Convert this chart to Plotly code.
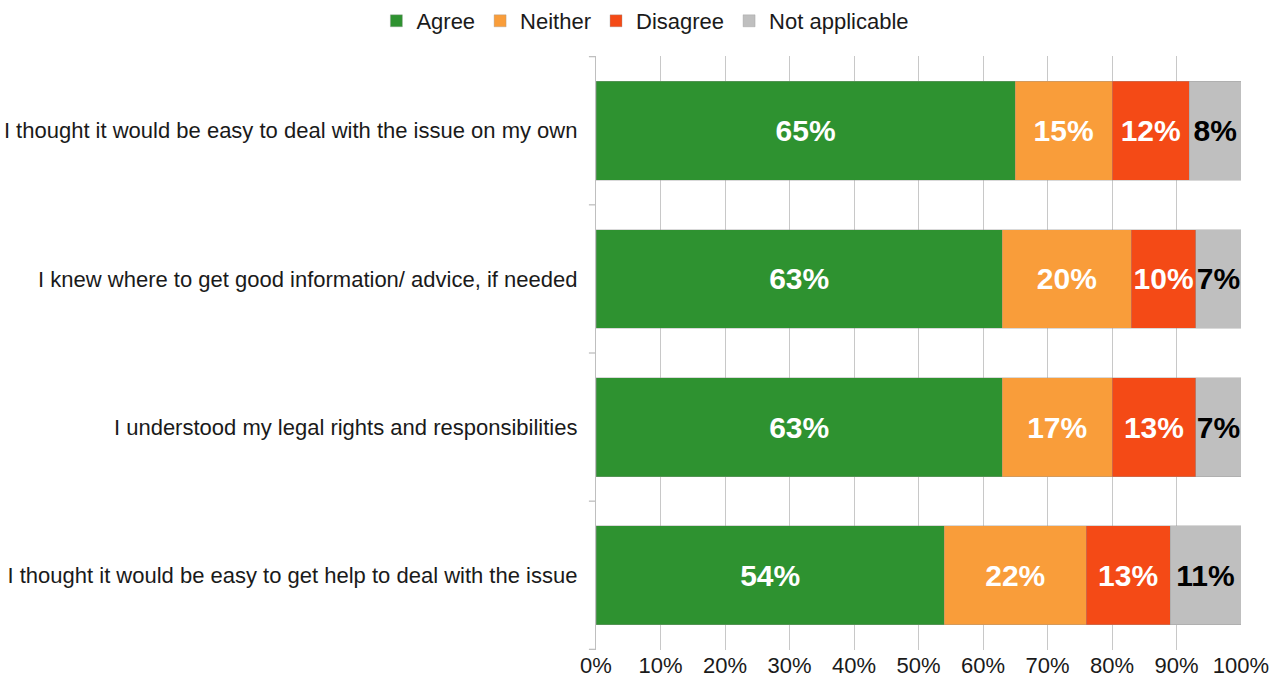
import plotly.graph_objects as go

statements = [
    "I thought it would be easy to deal with the issue on my own",
    "I knew where to get good information/ advice, if needed",
    "I understood my legal rights and responsibilities",
    "I thought it would be easy to get help to deal with the issue",
]
series_names = ["Agree", "Neither", "Disagree", "Not applicable"]
agree = [65, 63, 63, 54]
neither = [15, 20, 17, 22]
disagree = [12, 10, 13, 13]
not_applicable = [8, 7, 7, 11]
x_tick_values = [0, 10, 20, 30, 40, 50, 60, 70, 80, 90, 100]
x_tick_labels = ["0%", "10%", "20%", "30%", "40%", "50%", "60%", "70%", "80%", "90%", "100%"]

colors = ["#2E9230", "#F99D3A", "#F44A16", "#BFBFBF"]
text_colors = ["white", "white", "white", "black"]
values = [agree, neither, disagree, not_applicable]

FONT = "Liberation Sans, Arial, sans-serif"
TXT = "#1a1a1a"

fig = go.Figure()
for name, vals, col, tcol in zip(series_names, values, colors, text_colors):
    fig.add_trace(go.Bar(
        y=statements,
        x=vals,
        name=name,
        orientation="h",
        marker=dict(color=col, line=dict(color="rgba(150,150,150,0.6)", width=0.6)),
        text=[f"{v}%" for v in vals],
        textposition="inside",
        insidetextanchor="middle",
        textangle=0,
        textfont=dict(family=FONT, size=30, color=tcol, weight="bold"),
        hoverinfo="skip",
    ))

# small tick marks on the category axis between the bars
shapes = []
for b in [-0.5, 0.5, 1.5, 2.5, 3.5]:
    shapes.append(dict(type="line", xref="paper", yref="y", x0=-0.011, x1=0,
                       y0=b, y1=b, line=dict(color="#BFBFBF", width=1.3)))

fig.update_layout(
    barmode="stack",
    bargap=0.333,
    width=1278,
    height=689,
    margin=dict(l=596, r=37, t=56, b=39, autoexpand=False),
    plot_bgcolor="white",
    paper_bgcolor="white",
    font=dict(family=FONT, size=22, color=TXT),
    uniformtext=dict(minsize=30, mode="show"),
    legend=dict(
        orientation="h",
        xref="container", yref="container",
        x=0.505, xanchor="center",
        y=1.0, yanchor="top",
        font=dict(family=FONT, size=22, color=TXT),
        traceorder="normal",
        itemwidth=30,
        tracegroupgap=0,
    ),
    shapes=shapes,
    showlegend=True,
)
fig.update_xaxes(
    range=[0, 100],
    tickvals=x_tick_values,
    ticktext=x_tick_labels,
    showgrid=True,
    gridcolor="#C8C8C8",
    gridwidth=1.3,
    zeroline=False,
    showline=False,
    ticks="",
    automargin=False,
    tickfont=dict(family=FONT, size=22, color=TXT),
)
fig.update_yaxes(
    autorange="reversed",
    showline=True,
    linecolor="#BFBFBF",
    linewidth=1.3,
    showgrid=False,
    ticks="",
    ticklabelstandoff=13,
    automargin=False,
    tickfont=dict(family=FONT, size=22, color=TXT),
)

fig.write_html("out.html")
